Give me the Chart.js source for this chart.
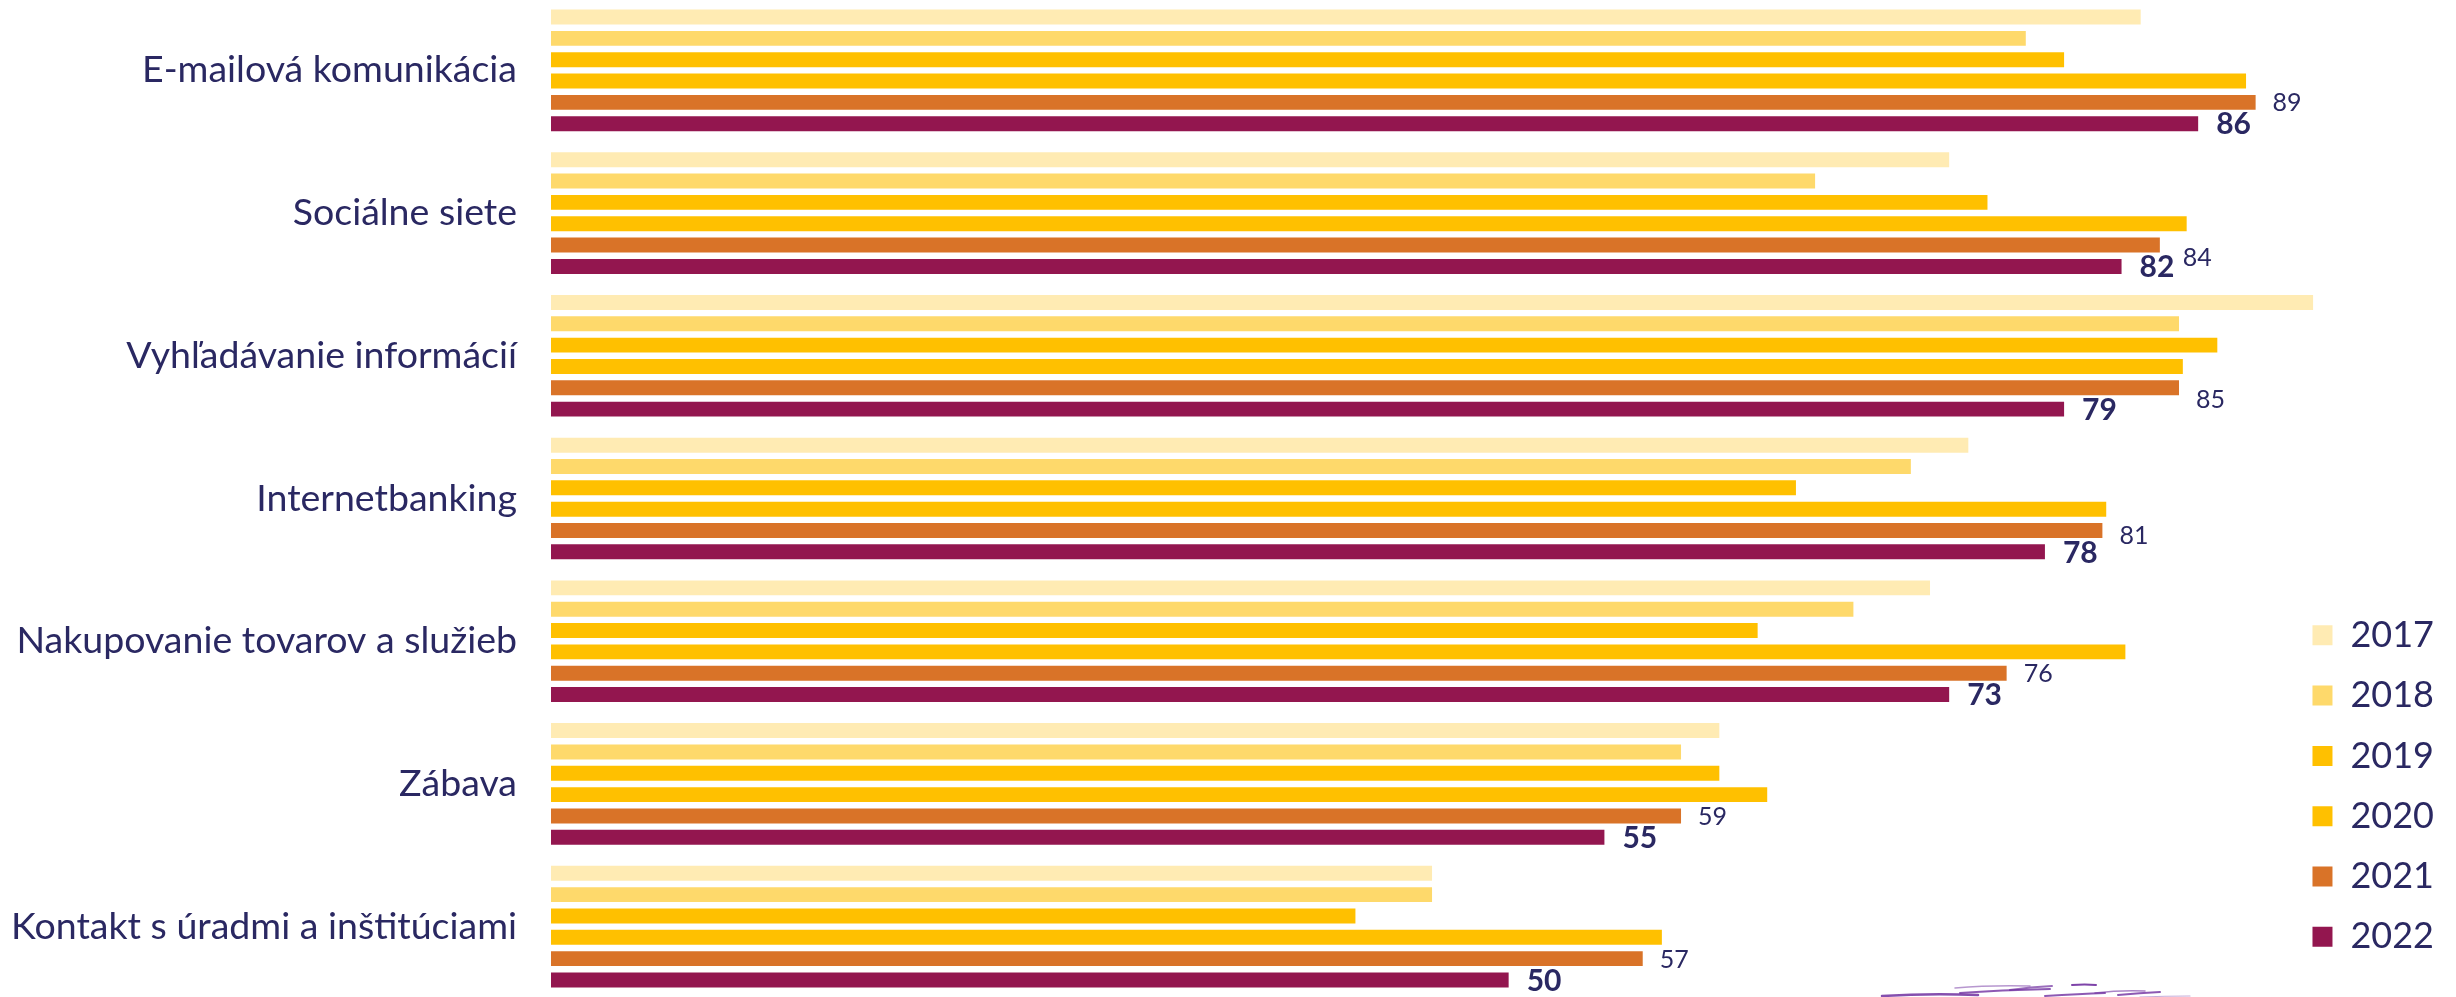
<!DOCTYPE html>
<html lang="sk">
<head>
<meta charset="utf-8">
<title>Využívanie internetu</title>
<script src="https://cdn.jsdelivr.net/npm/chart.js@4.4.1/dist/chart.umd.min.js"></script>
<style>
  html, body { margin: 0; padding: 0; background: #fff; overflow: hidden; }
  #obal { position: relative; top: -1px; width: 2456px; height: 999px; }
</style>
</head>
<body>
<div id="obal"><canvas id="graf"></canvas></div>
<script>
// kategórie (os Y)
const kategorie = [
  "E-mailová komunikácia",
  "Sociálne siete",
  "Vyhľadávanie informácií",
  "Internetbanking",
  "Nakupovanie tovarov a služieb",
  "Zábava",
  "Kontakt s úradmi a inštitúciami",
];

const roky = ["2017", "2018", "2019", "2020", "2021", "2022"];

// hodnoty v % podľa rokov
const hodnoty2017 = [83, 73, 92, 74, 72, 61, 46];
const hodnoty2018 = [77, 66, 85, 71, 68, 59, 46];
const hodnoty2019 = [79, 75, 87, 65, 63, 61, 42];
const hodnoty2020 = [88.5, 85.4, 85.2, 81.2, 82.2, 63.5, 58];
const hodnoty2021 = [89, 84, 85, 81, 76, 59, 57];
const hodnoty2022 = [86, 82, 79, 78, 73, 55, 50];

const farby = ["#FFEBB3", "#FED96B", "#FFC000", "#FFC000", "#D97328", "#93164F"];
const farbaTextu = "#2A2862";

// popisky 2021 posunuté tam, kde by sa bili s popiskom 2022
const posunPopisu2021 = [[0, 0], [6, 12], [0, 11], [0, 4], [0, 0], [0, 0], [0, 0]];

const vsetkyHodnoty = [hodnoty2017, hodnoty2018, hodnoty2019, hodnoty2020, hodnoty2021, hodnoty2022];

const datasets = roky.map((rok, i) => ({
  label: rok,
  data: vsetkyHodnoty[i],
  backgroundColor: farby[i],
  borderWidth: 0,
  barPercentage: 0.7,
  categoryPercentage: 0.897,
  clip: false,
}));

// hodnoty pri stĺpcoch 2021 (obyčajne) a 2022 (tučne)
const popisky = {
  id: "popisky",
  afterDatasetsDraw(chart) {
    const c = chart.ctx;
    c.save();
    c.fillStyle = farbaTextu;
    c.textAlign = "left";
    c.textBaseline = "middle";
    [
      { idx: 4, font: "400 25px Lato", medzera: 17 },
      { idx: 5, font: "700 30px Lato", medzera: 18 },
    ].forEach(({ idx, font, medzera }) => {
      c.font = font;
      chart.getDatasetMeta(idx).data.forEach((bar, j) => {
        const v = chart.data.datasets[idx].data[j];
        const [dx, dy] = idx === 4 ? posunPopisu2021[j] : [0, 0];
        c.fillText(String(v), bar.x + medzera + dx, bar.y + 1 + dy);
      });
    });
    c.restore();
  },
};

// fialový ťah štetcom dole vpravo (orezaný okrajom)
const tah = {
  id: "tah",
  afterDraw(chart) {
    const c = chart.ctx;
    const ciary = [
      [1882, 997, 1930, 994, 1978, 996, 2.5, 0.85],
      [1955, 989, 1990, 986, 2030, 987, 1.5, 0.5],
      [1960, 994, 2000, 991, 2050, 990, 2, 0.8],
      [2010, 991, 2030, 988, 2052, 987, 2, 0.7],
      [2072, 986, 2085, 985, 2096, 986, 2, 0.9],
      [2045, 997, 2080, 995, 2105, 994, 2, 0.8],
      [2095, 994, 2120, 991, 2145, 992, 1.5, 0.6],
      [2118, 996, 2140, 994, 2160, 993, 2, 0.8],
      [2140, 998, 2165, 997, 2190, 997, 1.2, 0.4],
    ];
    c.save();
    c.lineCap = "round";
    ciary.forEach(([x1, y1, cx, cy, x2, y2, w, a]) => {
      c.strokeStyle = `rgba(112, 48, 160, ${a})`;
      c.lineWidth = w;
      c.beginPath();
      c.moveTo(x1, y1);
      c.quadraticCurveTo(cx, cy, x2, y2);
      c.stroke();
    });
    c.restore();
  },
};

const ctx = document.getElementById("graf").getContext("2d");

new Chart(ctx, {
  type: "bar",
  data: { labels: kategorie, datasets },
  options: {
    indexAxis: "y",
    responsive: true,
    maintainAspectRatio: false,
    animation: false,
    layout: { padding: { right: 12 } },
    scales: {
      x: { display: false, min: 0, max: 90.7 },
      y: {
        grid: { display: false, drawTicks: false },
        border: { display: false },
        ticks: {
          color: farbaTextu,
          font: { family: "Lato", size: 37.5 },
          padding: 34,
        },
        afterFit: (scale) => {
          // pevná šírka osi a bez okrajov hore/dole, stĺpce idú cez celú výšku
          scale.width = 551;
          scale.paddingTop = 0;
          scale.paddingBottom = 0;
        },
      },
    },
    plugins: {
      legend: {
        position: "right",
        align: "start",
        title: { display: true, text: "", font: { size: 10 }, padding: { top: 582, bottom: 0 } },
        labels: {
          boxWidth: 20,
          boxHeight: 20,
          padding: 24.3,
          color: farbaTextu,
          font: { family: "Lato", size: 36 },
        },
      },
      tooltip: { enabled: false },
    },
  },
  plugins: [popisky, tah],
});
</script>
</body>
</html>
